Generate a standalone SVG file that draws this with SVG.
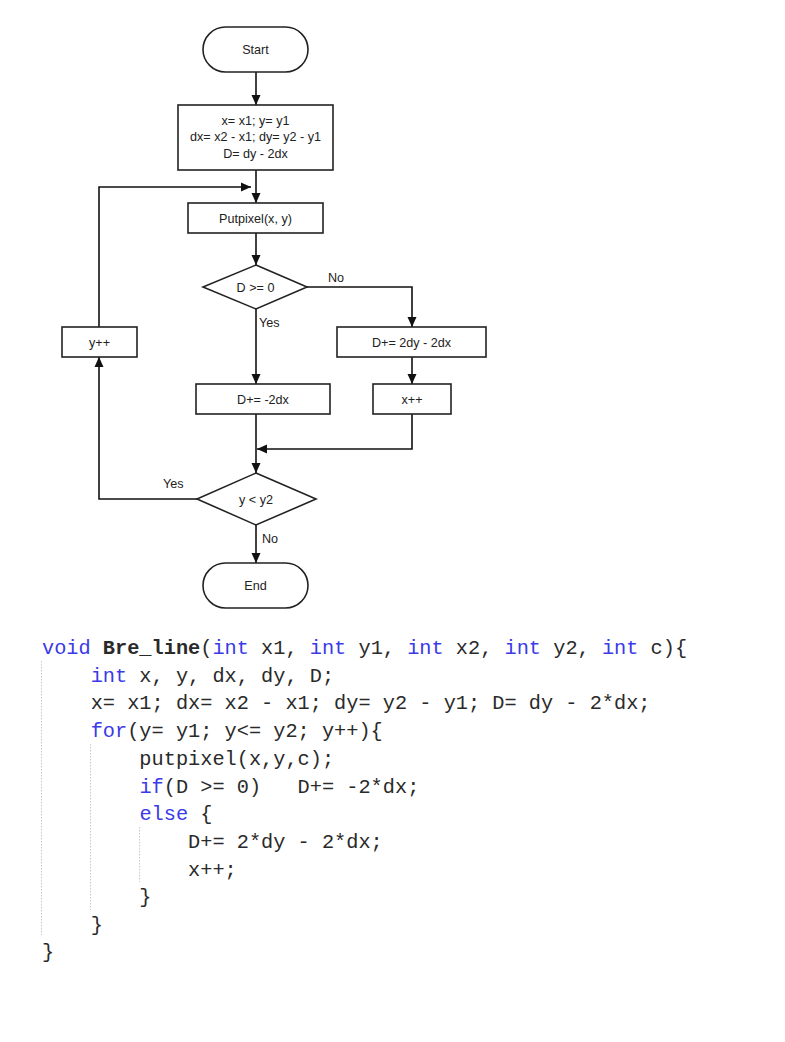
<svg xmlns="http://www.w3.org/2000/svg" width="785" height="1042" viewBox="0 0 785 1042">
<defs>
<marker id="ah" viewBox="0 0 10 10" refX="10" refY="5" markerWidth="10" markerHeight="10" markerUnits="userSpaceOnUse" orient="auto">
<path d="M0,0.5 L10,5 L0,9.5 Z" fill="#111"/>
</marker>
<style>
.n{fill:#fff;stroke:#222;stroke-width:1.6}
.t{font-family:"Liberation Sans",Arial,sans-serif;font-size:12.6px;fill:#222;text-anchor:middle}
.l{font-family:"Liberation Sans",Arial,sans-serif;font-size:12.6px;fill:#222}
.c{fill:none;stroke:#111;stroke-width:1.6}
.code{font-family:"Liberation Mono","Courier New",monospace;font-size:20.3px;fill:#2a2a2a;white-space:pre}
.k{fill:#3a3ae8}
.b{font-weight:bold}
.g{stroke:#c8c8c8;stroke-width:1;stroke-dasharray:1.5 1.5;fill:none}
</style>
</defs>
<rect width="785" height="1042" fill="#fff"/>

<g id="connectors">
<path class="c" d="M256,72 V105" marker-end="url(#ah)"/>
<path class="c" d="M256,170 V203" marker-end="url(#ah)"/>
<path class="c" d="M99,327 V187 H251" marker-end="url(#ah)"/>
<path class="c" d="M256,233 V265" marker-end="url(#ah)"/>
<path class="c" d="M307,287 H412 V327" marker-end="url(#ah)"/>
<path class="c" d="M256,309 V384" marker-end="url(#ah)"/>
<path class="c" d="M412,357 V384" marker-end="url(#ah)"/>
<path class="c" d="M256,414 V473" marker-end="url(#ah)"/>
<path class="c" d="M412,414 V449 H257" marker-end="url(#ah)"/>
<path class="c" d="M197,499 H99 V357" marker-end="url(#ah)"/>
<path class="c" d="M256,525 V563" marker-end="url(#ah)"/>
<text class="l" x="328" y="282">No</text>
<text class="l" x="259" y="327">Yes</text>
<text class="l" x="163" y="488">Yes</text>
<text class="l" x="262" y="543">No</text>
</g>

<g id="start">
<rect class="n" x="203" y="27" width="105" height="45" rx="22.5"/>
<text class="t" x="255.5" y="53.5">Start</text>
</g>
<g id="init">
<rect class="n" x="178" y="105" width="155" height="65"/>
<text class="t" x="255.5" y="124.5">x= x1; y= y1</text>
<text class="t" x="255.5" y="141">dx= x2 - x1; dy= y2 - y1</text>
<text class="t" x="255.5" y="157.5">D= dy - 2dx</text>
</g>
<g id="putpixel">
<rect class="n" x="188" y="203" width="135" height="30"/>
<text class="t" x="255.5" y="222.5">Putpixel(x, y)</text>
</g>
<g id="cond1">
<path class="n" d="M256,265 L307,287 L256,309 L203,287 Z"/>
<text class="t" x="255.5" y="291.5">D &gt;= 0</text>
</g>
<g id="dplus2">
<rect class="n" x="337" y="327" width="149" height="30"/>
<text class="t" x="411.5" y="346.5">D+= 2dy - 2dx</text>
</g>
<g id="yinc">
<rect class="n" x="62" y="327" width="75" height="30"/>
<text class="t" x="99.5" y="346.5">y++</text>
</g>
<g id="dplus1">
<rect class="n" x="196" y="384" width="134" height="30"/>
<text class="t" x="263" y="403.5">D+= -2dx</text>
</g>
<g id="xinc">
<rect class="n" x="373" y="384" width="78" height="30"/>
<text class="t" x="412" y="403.5">x++</text>
</g>
<g id="cond2">
<path class="n" d="M256,473 L316,499 L256,525 L197,499 Z"/>
<text class="t" x="256" y="503.5">y &lt; y2</text>
</g>
<g id="end">
<rect class="n" x="203" y="563" width="105" height="45" rx="22.5"/>
<text class="t" x="255.5" y="589.5">End</text>
</g>

<g id="code">
<path class="g" d="M41.5,661 V935"/>
<path class="g" d="M90.5,744 V910"/>
<path class="g" d="M139.5,827 V882"/>
<text class="code" x="42" y="654"><tspan class="k">void</tspan> <tspan class="b">Bre_line</tspan>(<tspan class="k">int</tspan> x1, <tspan class="k">int</tspan> y1, <tspan class="k">int</tspan> x2, <tspan class="k">int</tspan> y2, <tspan class="k">int</tspan> c){</text>
<text class="code" x="42" y="682">    <tspan class="k">int</tspan> x, y, dx, dy, D;</text>
<text class="code" x="42" y="709">    x= x1; dx= x2 - x1; dy= y2 - y1; D= dy - 2*dx;</text>
<text class="code" x="42" y="737">    <tspan class="k">for</tspan>(y= y1; y&lt;= y2; y++){</text>
<text class="code" x="42" y="765">        putpixel(x,y,c);</text>
<text class="code" x="42" y="793">        <tspan class="k">if</tspan>(D &gt;= 0)   D+= -2*dx;</text>
<text class="code" x="42" y="820">        <tspan class="k">else</tspan> {</text>
<text class="code" x="42" y="848">            D+= 2*dy - 2*dx;</text>
<text class="code" x="42" y="876">            x++;</text>
<text class="code" x="42" y="903">        }</text>
<text class="code" x="42" y="931">    }</text>
<text class="code" x="42" y="958">}</text>
</g>
</svg>
